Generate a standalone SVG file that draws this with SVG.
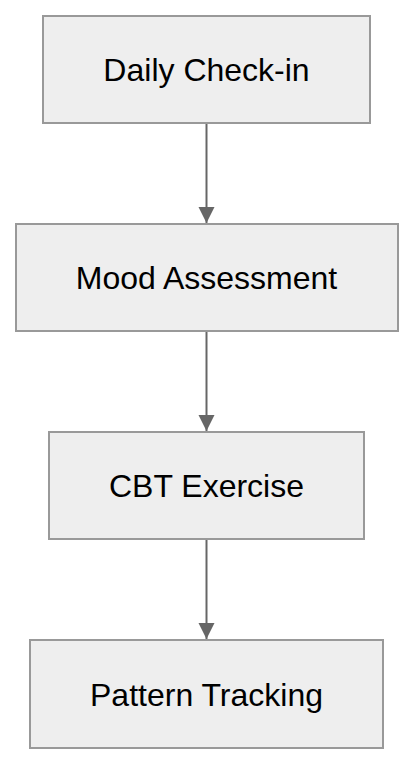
<svg xmlns="http://www.w3.org/2000/svg" width="414" height="764" viewBox="0 0 414 764">
<style>
.box{fill:#eeeeee;stroke:#999999;stroke-width:2}
.lbl{font-family:"Liberation Sans",Arial,sans-serif;font-size:32px;fill:#000;text-anchor:middle}
.edge{stroke:#666666;stroke-width:2;fill:none}
</style>
<defs>
<marker id="arr" markerUnits="userSpaceOnUse" markerWidth="18" markerHeight="18" refX="16" refY="8" orient="auto">
<path d="M0,0 L16,8 L0,16 Z" fill="#666666"/>
</marker>
</defs>
<rect width="414" height="764" fill="#ffffff"/>
<g id="edges">
<line class="edge" x1="206.5" y1="123" x2="206.5" y2="223" marker-end="url(#arr)"/>
<line class="edge" x1="206.5" y1="331" x2="206.5" y2="431" marker-end="url(#arr)"/>
<line class="edge" x1="206.5" y1="539" x2="206.5" y2="639" marker-end="url(#arr)"/>
</g>
<g id="n1">
<rect class="box" x="43" y="16" width="327" height="107"/>
<text class="lbl" x="206.5" y="81">Daily Check-in</text>
</g>
<g id="n2">
<rect class="box" x="16" y="224" width="382" height="107"/>
<text class="lbl" x="206.5" y="289">Mood Assessment</text>
</g>
<g id="n3">
<rect class="box" x="49" y="432" width="315" height="107"/>
<text class="lbl" x="206.5" y="497">CBT Exercise</text>
</g>
<g id="n4">
<rect class="box" x="30" y="640" width="353" height="108"/>
<text class="lbl" x="206.5" y="705.5">Pattern Tracking</text>
</g>
</svg>
